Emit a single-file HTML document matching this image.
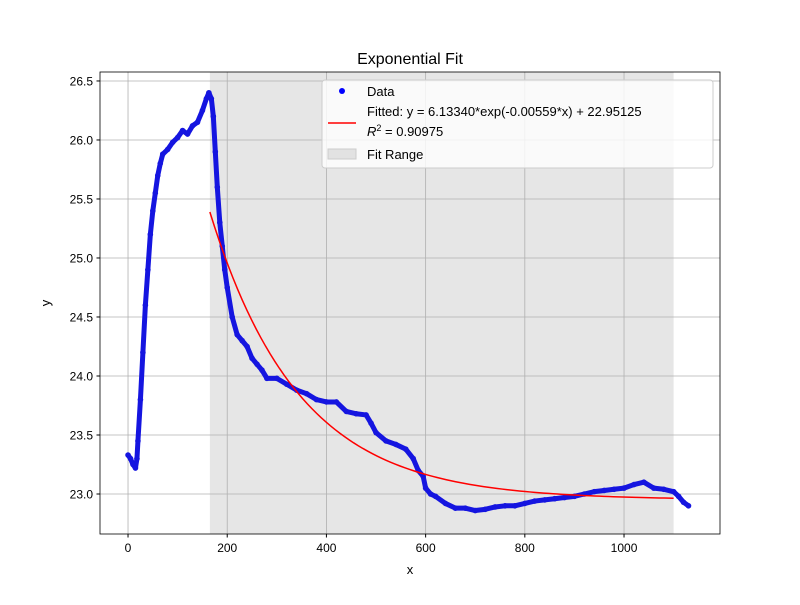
<!DOCTYPE html>
<html><head><meta charset="utf-8"><style>body{margin:0;background:#fff}svg{font-family:"Liberation Sans","DejaVu Sans",sans-serif}</style></head>
<body>
<svg id="chart" width="800" height="600" xmlns="http://www.w3.org/2000/svg"></svg>
<script>
const dataX=[0,5,10,15,18,20,25,30,35,40,45,50,55,60,65,70,80,90,100,110,120,130,140,150,158,163,168,172,176,180,185,190,195,200,210,220,230,240,250,260,270,280,300,320,340,360,380,400,420,440,460,480,490,500,520,540,560,575,585,595,600,610,620,640,660,680,700,720,740,760,780,800,820,840,860,880,900,920,940,960,980,1000,1020,1040,1060,1080,1100,1110,1120,1130];
const dataY=[23.33,23.30,23.25,23.22,23.3,23.45,23.8,24.2,24.6,24.9,25.2,25.4,25.55,25.7,25.8,25.88,25.92,25.98,26.02,26.08,26.05,26.12,26.15,26.25,26.35,26.4,26.35,26.2,25.9,25.6,25.3,25.1,24.9,24.75,24.5,24.35,24.3,24.25,24.15,24.1,24.05,23.98,23.98,23.93,23.88,23.85,23.8,23.78,23.78,23.7,23.68,23.67,23.6,23.52,23.45,23.42,23.38,23.3,23.2,23.15,23.05,23.0,22.98,22.92,22.88,22.88,22.86,22.87,22.89,22.9,22.9,22.92,22.94,22.95,22.96,22.97,22.98,23.0,23.02,23.03,23.04,23.05,23.08,23.1,23.05,23.04,23.02,22.98,22.93,22.9];
const fitParams=[6.13340,0.00559,22.95125];
const fitRange=[165,1100];
const xTicks=[0,200,400,600,800,1000];
const yTicks=[23.0,23.5,24.0,24.5,25.0,25.5,26.0,26.5];
const L=100,R=720,T=72,B=534,xmin=-56.5,xmax=1193.5,ymin=22.661,ymax=26.576;
const sx=v=>L+(v-xmin)/(xmax-xmin)*(R-L);
const sy=v=>B-(v-ymin)/(ymax-ymin)*(B-T);
const svg=document.getElementById('chart');
const NS='http://www.w3.org/2000/svg';
function mk(tag,attrs,parent){const e=document.createElementNS(NS,tag);for(const k in attrs)e.setAttribute(k,attrs[k]);(parent||svg).appendChild(e);return e;}
let e;
e=mk('text',{x:410,y:64,'font-size':16,'text-anchor':'middle'});e.textContent='Exponential Fit';


e=mk('rect',{x:sx(fitRange[0]),y:T,width:sx(fitRange[1])-sx(fitRange[0]),height:B-T,fill:'#808080','fill-opacity':0.2});


xTicks.forEach(v=>{
 e=mk('line',{x1:sx(v),x2:sx(v),y1:T,y2:B,stroke:'#b0b0b0','stroke-width':0.8});
 
 
 mk('line',{x1:sx(v),x2:sx(v),y1:B,y2:B+3.5,stroke:'#000'});
 e=mk('text',{x:sx(v),y:B+18,'font-size':12,'text-anchor':'middle'});e.textContent=v;
 
 
});
yTicks.forEach(v=>{
 e=mk('line',{x1:L,x2:R,y1:sy(v),y2:sy(v),stroke:'#b0b0b0','stroke-width':0.8});
 
 
 mk('line',{x1:L-3.5,x2:L,y1:sy(v),y2:sy(v),stroke:'#000'});
 e=mk('text',{x:L-7,y:sy(v)+4.5,'font-size':12,'text-anchor':'end'});e.textContent=v.toFixed(1);
 
 
});
const g=mk('g',{});


mk('polyline',{points:dataX.map((x,i)=>sx(x)+','+sy(dataY[i])).join(' '),fill:'none',stroke:'#1515e0','stroke-width':5,'stroke-linejoin':'round','stroke-linecap':'round'},g);
dataX.forEach((x,i)=>{e=mk('circle',{cx:sx(x),cy:sy(dataY[i]),r:2.8,fill:'#1515e0'},g);
 
 });
let pts=[];for(let k=0;k<=100;k++){const x=fitRange[0]+(fitRange[1]-fitRange[0])*k/100;pts.push(sx(x)+','+sy(fitParams[0]*Math.exp(-fitParams[1]*x)+fitParams[2]));}
e=mk('polyline',{points:pts.join(' '),fill:'none',stroke:'#ff0000','stroke-width':1.5});


e=mk('rect',{x:L,y:T,width:R-L,height:B-T,fill:'none',stroke:'#000','stroke-width':0.8});


e=mk('text',{x:410,y:574,'font-size':13,'text-anchor':'middle'});e.textContent='x';


e=mk('text',{x:50,y:303,'font-size':13,'text-anchor':'middle',transform:'rotate(-90 50 303)'});e.textContent='y';


const lg=mk('g',{});


mk('rect',{x:322,y:80,width:391,height:88,rx:3,fill:'#fff','fill-opacity':0.8,stroke:'#ccc'},lg);
mk('circle',{cx:342,cy:91,r:3,fill:'#0000ff'},lg);
e=mk('text',{x:367,y:96,'font-size':13},lg);e.textContent='Data';


mk('line',{x1:328,x2:356,y1:123,y2:123,stroke:'#ff0000','stroke-width':1.5},lg);
e=mk('text',{x:367,y:116,'font-size':13},lg);e.textContent='Fitted: y = 6.13340*exp(-0.00559*x) + 22.95125';


e=mk('text',{x:367,y:136,'font-size':13},lg);e.innerHTML='<tspan font-style="italic">R</tspan><tspan dy="-5" font-size="9">2</tspan><tspan dy="5"> = 0.90975</tspan>';


mk('rect',{x:328,y:149,width:28,height:10,fill:'#808080','fill-opacity':0.2,stroke:'#ccc'},lg);
e=mk('text',{x:367,y:159,'font-size':13},lg);e.textContent='Fit Range';


</script>
</body></html>
